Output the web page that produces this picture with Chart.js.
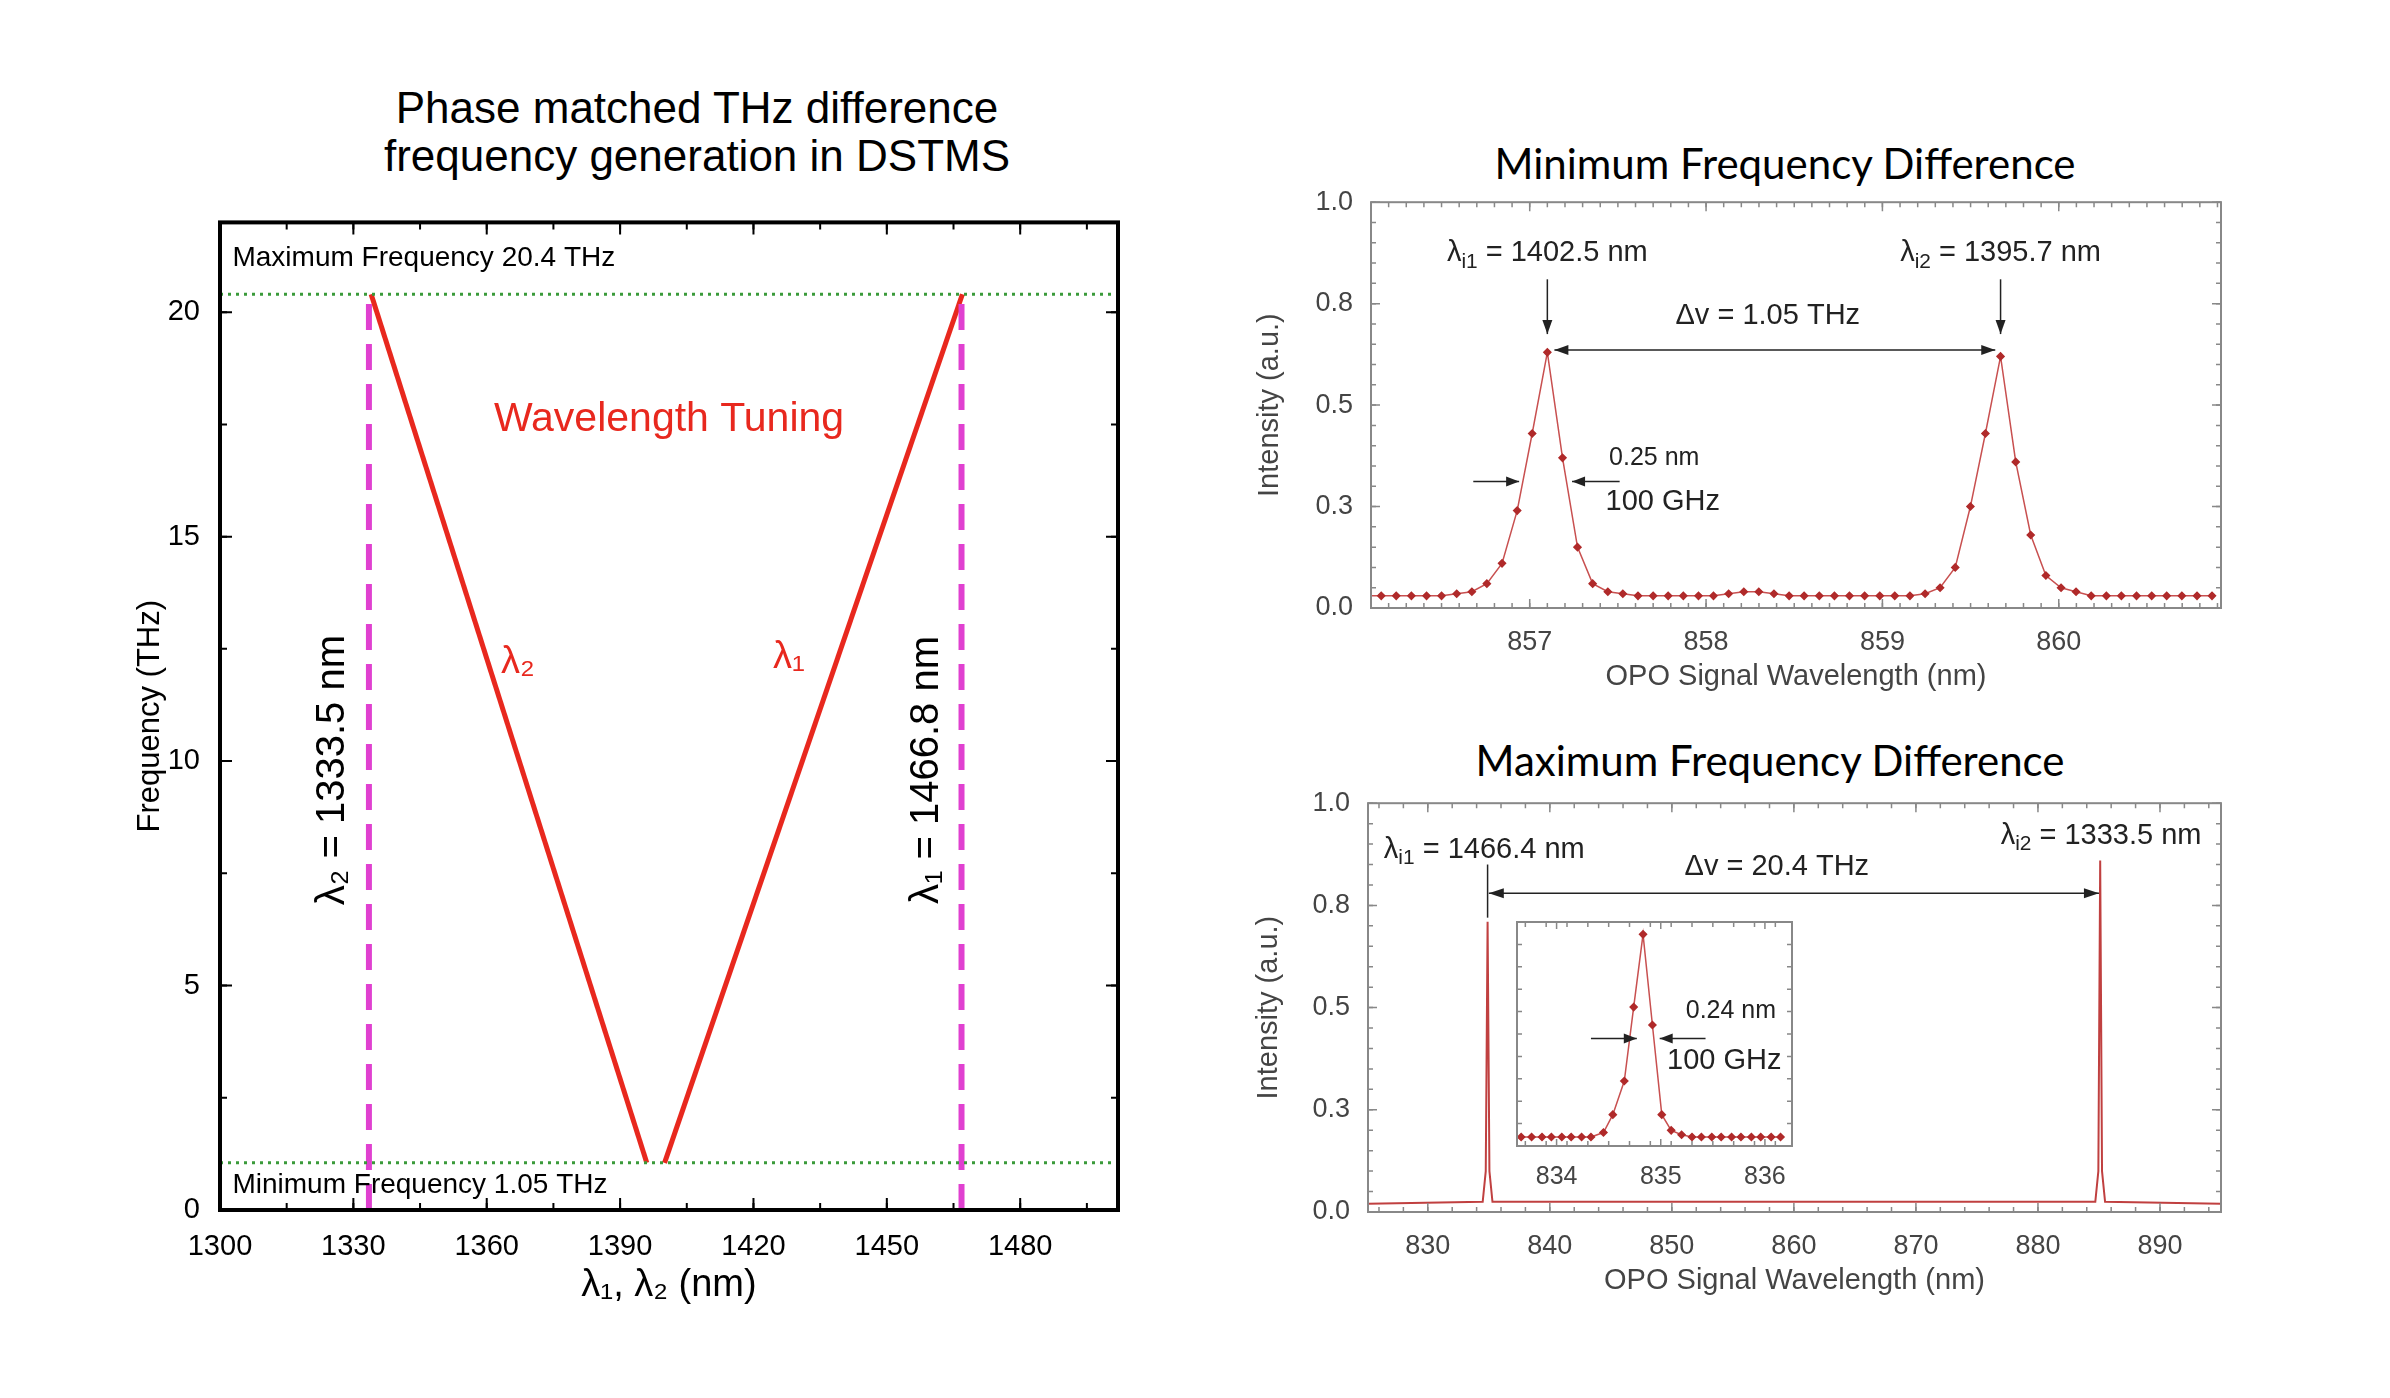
<!DOCTYPE html>
<html><head><meta charset="utf-8">
<script src="https://cdn.jsdelivr.net/npm/chart.js@4.4.1/dist/chart.umd.min.js"></script>
<style>
  body { margin:0; background:#fff; width:2390px; height:1398px; position:relative; overflow:hidden; }
  .box { position:absolute; }
  .ttl { position:absolute; color:#000; text-align:center; white-space:nowrap; }
</style></head>
<body>
<div class="ttl" style="left:297px;top:84px;width:800px;font:44px 'Liberation Sans',Arial,sans-serif;line-height:48px;">Phase matched THz difference<br>frequency generation in DSTMS</div>
<div class="ttl" style="left:1385px;top:138px;width:800px;font:42px Lato,'Open Sans',sans-serif;">Minimum Frequency Difference</div>
<div class="ttl" style="left:1370px;top:735px;width:800px;font:42px Lato,'Open Sans',sans-serif;">Maximum Frequency Difference</div>
<div class="box" id="b1"><canvas id="c1"></canvas></div>
<div class="box" id="b2"><canvas id="c2"></canvas></div>
<div class="box" id="b3"><canvas id="c3"></canvas></div>
<div class="box" id="b4"><canvas id="c4"></canvas></div>
<script>
/* ─── Data ─────────────────────────────────────────────── */
// left: phase matched tuning
const TUNE_X_TICKS = [1300, 1330, 1360, 1390, 1420, 1450, 1480];
const TUNE_Y_TICKS = [0, 5, 10, 15, 20];
const LAMBDA2_LINE = [{x:1334, y:20.4}, {x:1396, y:1.05}];
const LAMBDA1_LINE = [{x:1400, y:1.05}, {x:1467, y:20.4}];
const F_MAX = 20.4, F_MIN = 1.05;
const L2_CUT = 1333.5, L1_CUT = 1466.8;

// top right: minimum frequency difference spectrum
const MIN_X = [856.072,856.158,856.243,856.329,856.415,856.500,856.586,856.672,856.757,856.843,856.929,857.014,857.100,857.186,857.271,857.357,857.443,857.528,857.614,857.700,857.785,857.871,857.957,858.042,858.128,858.214,858.299,858.385,858.471,858.556,858.642,858.728,858.813,858.899,858.985,859.070,859.156,859.242,859.327,859.413,859.499,859.584,859.670,859.756,859.841,859.927,860.013,860.098,860.184,860.270,860.355,860.441,860.527,860.612,860.698,860.784,860.869];
const MIN_Y = [0.03,0.03,0.03,0.03,0.03,0.03,0.035,0.04,0.06,0.11,0.24,0.43,0.63,0.37,0.15,0.06,0.04,0.035,0.03,0.03,0.03,0.03,0.03,0.03,0.035,0.04,0.04,0.035,0.03,0.03,0.03,0.03,0.03,0.03,0.03,0.03,0.03,0.035,0.05,0.10,0.25,0.43,0.62,0.36,0.18,0.08,0.05,0.04,0.03,0.03,0.03,0.03,0.03,0.03,0.03,0.03,0.03];
const MIN_X_TICKS = [857, 858, 859, 860];
const INT_Y_TICKS = [0, 0.25, 0.5, 0.75, 1];
const INT_Y_LABELS = ['0.0', '0.3', '0.5', '0.8', '1.0'];

// bottom right: maximum frequency difference spectrum
const MAX_X = [825, 834.5, 834.75, 834.9, 835.05, 835.3, 884.7, 884.95, 885.1, 885.25, 885.5, 895];
const MAX_Y = [0.02, 0.025, 0.1, 0.71, 0.1, 0.025, 0.025, 0.1, 0.86, 0.1, 0.025, 0.02];
const MAX_X_TICKS = [830, 840, 850, 860, 870, 880, 890];

// inset
const INS_X = [833.66,833.76,833.86,833.95,834.05,834.14,834.24,834.33,834.45,834.54,834.65,834.74,834.83,834.92,835.01,835.10,835.20,835.30,835.39,835.49,835.58,835.68,835.77,835.87,835.96,836.06,836.15];
const INS_Y = [0.04,0.04,0.04,0.04,0.04,0.04,0.04,0.04,0.06,0.14,0.29,0.62,0.945,0.54,0.14,0.07,0.05,0.04,0.04,0.04,0.04,0.04,0.04,0.04,0.04,0.04,0.04];
const INS_X_TICKS = [834, 835, 836];

/* ─── Helpers ─────────────────────────────────────────── */
const pts = (xs, ys) => xs.map((x, i) => ({x, y: ys[i]}));
const SANS = "'Liberation Sans', Arial, sans-serif";
const NARROW = "'Liberation Sans Narrow', 'Liberation Sans', Arial, sans-serif";
const DARKRED = '#b02a2a';

function place(id, areaL, areaT, areaW, areaH, yw, xh, padT, padR) {
  const b = document.getElementById(id);
  b.style.left = (areaL - yw) + 'px';
  b.style.top = (areaT - padT) + 'px';
  b.style.width = (areaW + yw + padR) + 'px';
  b.style.height = (areaH + xh + padT) + 'px';
}

function arrowHead(ctx, x, y, dx, dy, len, half) {
  const a = Math.atan2(dy, dx);
  ctx.beginPath();
  ctx.moveTo(x, y);
  ctx.lineTo(x - len*Math.cos(a) + half*Math.sin(a), y - len*Math.sin(a) - half*Math.cos(a));
  ctx.lineTo(x - len*Math.cos(a) - half*Math.sin(a), y - len*Math.sin(a) + half*Math.cos(a));
  ctx.closePath(); ctx.fill();
}
function arrow(ctx, x1, y1, x2, y2, both, len, half) {
  ctx.beginPath(); ctx.moveTo(x1, y1); ctx.lineTo(x2, y2); ctx.stroke();
  arrowHead(ctx, x2, y2, x2-x1, y2-y1, len, half);
  if (both) arrowHead(ctx, x1, y1, x1-x2, y1-y2, len, half);
}
// λ with subscript then rest
function subText(ctx, main, sub, rest, x, y, size, align) {
  ctx.font = size + 'px ' + NARROW;
  const w1 = ctx.measureText(main).width;
  ctx.font = (size*0.72) + 'px ' + NARROW;
  const w2 = ctx.measureText(sub).width;
  ctx.font = size + 'px ' + NARROW;
  const w3 = ctx.measureText(rest).width;
  const tot = w1 + w2 + w3;
  let x0 = align === 'center' ? x - tot/2 : align === 'right' ? x - tot : x;
  ctx.textAlign = 'left'; ctx.textBaseline = 'middle';
  ctx.fillText(main, x0, y);
  ctx.font = (size*0.72) + 'px ' + NARROW;
  ctx.fillText(sub, x0 + w1, y + size*0.3);
  ctx.font = size + 'px ' + NARROW;
  ctx.fillText(rest, x0 + w1 + w2, y);
}

// frame and inward ticks
function frame(chart, o) {
  const {ctx, chartArea: a, scales: {x, y}} = chart;
  ctx.save();
  ctx.strokeStyle = o.color; ctx.lineWidth = o.lw;
  ctx.strokeRect(a.left, a.top, a.right - a.left, a.bottom - a.top);
  ctx.lineWidth = o.tw;
  const tick = (vals, len, horiz) => vals.forEach(v => {
    ctx.beginPath();
    if (horiz) {
      const p = x.getPixelForValue(v);
      ctx.moveTo(p, a.bottom); ctx.lineTo(p, a.bottom - len);
      ctx.moveTo(p, a.top); ctx.lineTo(p, a.top + len);
    } else {
      const p = y.getPixelForValue(v);
      ctx.moveTo(a.left, p); ctx.lineTo(a.left + len, p);
      ctx.moveTo(a.right, p); ctx.lineTo(a.right - len, p);
    }
    ctx.stroke();
  });
  const range = (s, e, st) => { const r = []; for (let v = s; v <= e + 1e-9; v += st) r.push(v); return r; };
  tick(range(o.xs, x.max, o.xminor), o.minLen, true);
  tick(range(o.ys, y.max, o.yminor), o.minLen, false);
  tick(o.xt, o.majLen, true);
  tick(o.yt, o.majLen, false);
  ctx.restore();
}

function axes(xmin, xmax, xt, ymin, ymax, yt, yl, font, color, yw, xh, pad) {
  return {
    x: { type:'linear', min:xmin, max:xmax, grid:{display:false}, border:{display:false},
         afterBuildTicks: s => { s.ticks = xt.map(v => ({value:v})); },
         afterFit: s => { s.height = xh; },
         ticks:{ color, font, padding:pad, maxRotation:0, autoSkip:false, callback: v => String(v) } },
    y: { type:'linear', min:ymin, max:ymax, grid:{display:false}, border:{display:false},
         afterBuildTicks: s => { s.ticks = yt.map(v => ({value:v})); },
         afterFit: s => { s.width = yw; },
         ticks:{ color, font, padding:pad, autoSkip:false,
                 callback: (v) => yl ? yl[yt.indexOf(v)] : String(v) } },
  };
}

const BASE = { responsive:true, maintainAspectRatio:false, animation:false,
  plugins:{ legend:{display:false}, tooltip:{enabled:false} } };

/* ─── Left: tuning chart ──────────────────────────────── */
place('b1', 220, 213, 898, 997, 92, 102, 20, 40);
new Chart(document.getElementById('c1'), {
  type:'scatter',
  data:{ datasets:[
    { data:[{x:1300,y:F_MAX},{x:1502,y:F_MAX}], showLine:true, borderColor:'#3a9a3a', borderWidth:3, borderDash:[3,5], pointRadius:0 },
    { data:[{x:1300,y:F_MIN},{x:1502,y:F_MIN}], showLine:true, borderColor:'#3a9a3a', borderWidth:3, borderDash:[3,5], pointRadius:0 },
    { data:[{x:L2_CUT,y:0},{x:L2_CUT,y:F_MAX}], showLine:true, borderColor:'#e040d0', borderWidth:6, borderDash:[26,14], pointRadius:0 },
    { data:[{x:L1_CUT,y:0},{x:L1_CUT,y:F_MAX}], showLine:true, borderColor:'#e040d0', borderWidth:6, borderDash:[26,14], pointRadius:0 },
    { data:LAMBDA2_LINE, showLine:true, borderColor:'#e8281e', borderWidth:5, pointRadius:0 },
    { data:LAMBDA1_LINE, showLine:true, borderColor:'#e8281e', borderWidth:5, pointRadius:0 },
  ]},
  options:{ ...BASE,
    layout:{ padding:{ top:20, right:40, left:0, bottom:0 } },
    scales: (() => {
      const s = axes(1300, 1502, TUNE_X_TICKS, 0, 22, TUNE_Y_TICKS, null, {size:29, family:SANS}, '#000', 92, 102, 12);
      s.x.title = { display:true, text:'λ₁, λ₂ (nm)', color:'#000', font:{size:38, family:SANS}, padding:{top:2} };
      s.y.title = { display:true, text:'Frequency (THz)', color:'#000', font:{size:31, family:SANS}, padding:{bottom:0} };
      return s;
    })(),
  },
  plugins:[{ id:'deco1', afterDatasetsDraw(chart) {
    frame(chart, { color:'#000', lw:4, tw:2, xt:TUNE_X_TICKS, yt:TUNE_Y_TICKS, xs:1300, ys:0, xminor:15, yminor:2.5, majLen:12, minLen:7 });
    const {ctx, scales:{x, y}} = chart;
    const X = v => x.getPixelForValue(v), Y = v => y.getPixelForValue(v);
    ctx.save();
    ctx.fillStyle = '#000'; ctx.textBaseline = 'middle'; ctx.textAlign = 'left';
    ctx.font = '28px ' + SANS;
    ctx.fillText('Maximum Frequency 20.4 THz', X(1302.8), Y(21.2));
    ctx.fillText('Minimum Frequency 1.05 THz', X(1302.8), Y(0.55));
    ctx.fillStyle = '#e8281e';
    ctx.font = '41px ' + SANS; ctx.textAlign = 'center';
    ctx.fillText('Wavelength Tuning', X(1401), Y(17.6));
    ctx.font = '38px ' + SANS;
    ctx.fillText('λ₂', X(1367), Y(12.2));
    ctx.fillText('λ₁', X(1428), Y(12.3));
    ctx.fillStyle = '#000'; ctx.font = '40px ' + SANS;
    [[1325.5, 'λ₂ = 1333.5 nm'], [1459, 'λ₁ = 1466.8 nm']].forEach(([v, t]) => {
      ctx.save();
      ctx.translate(X(v), Y(9.8));
      ctx.rotate(-Math.PI/2);
      ctx.fillText(t, 0, 0);
      ctx.restore();
    });
    ctx.restore();
  }}],
});

/* ─── Top right: minimum difference ───────────────────── */
const GREY = '#444';
const TFONT = {size:27, family:NARROW};
place('b2', 1371, 196, 850, 412, 122, 90, 20, 40);
new Chart(document.getElementById('c2'), {
  type:'scatter',
  data:{ datasets:[{ data:pts(MIN_X, MIN_Y), showLine:true, borderColor:'#c85050', borderWidth:1.5,
    pointRadius:3.5, pointStyle:'rectRot', pointBackgroundColor:DARKRED, pointBorderColor:DARKRED }]},
  options:{ ...BASE,
    layout:{ padding:{ top:20, right:40 } },
    scales:(() => {
      const s = axes(856.1, 860.92, MIN_X_TICKS, 0, 1, INT_Y_TICKS, INT_Y_LABELS, TFONT, GREY, 122, 90, 10);
      s.x.title = { display:true, text:'OPO Signal Wavelength (nm)', color:GREY, font:{size:29, family:NARROW}, padding:{top:4} };
      s.y.title = { display:true, text:'Intensity (a.u.)', color:GREY, font:{size:29, family:NARROW}, padding:{bottom:2} };
      return s;
    })(),
  },
  plugins:[{ id:'deco2', afterDatasetsDraw(chart) {
    frame(chart, { color:'#888', lw:2, tw:1.5, xt:MIN_X_TICKS, yt:INT_Y_TICKS, xs:856.2, ys:0, xminor:0.1, yminor:0.05, majLen:9, minLen:5 });
    const {ctx, scales:{x, y}} = chart;
    const X = v => x.getPixelForValue(v), Y = v => y.getPixelForValue(v);
    ctx.save();
    ctx.fillStyle = '#222'; ctx.strokeStyle = '#222'; ctx.lineWidth = 1.5;
    subText(ctx, 'λ', 'i1', ' = 1402.5 nm', X(857.1), Y(0.874), 29, 'center');
    subText(ctx, 'λ', 'i2', ' = 1395.7 nm', X(859.67), Y(0.874), 29, 'center');
    arrow(ctx, X(857.1), Y(0.81), X(857.1), Y(0.675), false, 14, 5);
    arrow(ctx, X(859.67), Y(0.81), X(859.67), Y(0.675), false, 14, 5);
    arrow(ctx, X(857.14), Y(0.636), X(859.64), Y(0.636), true, 14, 5);
    ctx.font = '29px ' + NARROW; ctx.textAlign = 'center'; ctx.textBaseline = 'middle';
    ctx.fillText('Δv = 1.05 THz', X(858.35), Y(0.72));
    arrow(ctx, X(856.68), Y(0.312), X(856.94), Y(0.312), false, 13, 5);
    arrow(ctx, X(857.51), Y(0.312), X(857.24), Y(0.312), false, 13, 5);
    ctx.textAlign = 'left'; ctx.font = '25px ' + NARROW;
    ctx.fillText('0.25 nm', X(857.45), Y(0.37));
    ctx.font = '29px ' + NARROW;
    ctx.fillText('100 GHz', X(857.43), Y(0.26));
    ctx.restore();
  }}],
});

/* ─── Bottom right: maximum difference ────────────────── */
place('b3', 1368, 797, 853, 415, 120, 90, 20, 40);
new Chart(document.getElementById('c3'), {
  type:'scatter',
  data:{ datasets:[{ data:pts(MAX_X, MAX_Y), showLine:true, borderColor:'#c04040', borderWidth:2, pointRadius:0 }]},
  options:{ ...BASE,
    layout:{ padding:{ top:20, right:40 } },
    scales:(() => {
      const s = axes(825.1, 895, MAX_X_TICKS, 0, 1, INT_Y_TICKS, INT_Y_LABELS, TFONT, GREY, 120, 90, 10);
      s.x.title = { display:true, text:'OPO Signal Wavelength (nm)', color:GREY, font:{size:29, family:NARROW}, padding:{top:4} };
      s.y.title = { display:true, text:'Intensity (a.u.)', color:GREY, font:{size:29, family:NARROW}, padding:{bottom:2} };
      return s;
    })(),
  },
  plugins:[{ id:'deco3', afterDatasetsDraw(chart) {
    frame(chart, { color:'#888', lw:2, tw:1.5, xt:MAX_X_TICKS, yt:INT_Y_TICKS, xs:826, ys:0, xminor:2, yminor:0.05, majLen:9, minLen:5 });
    const {ctx, scales:{x, y}} = chart;
    const X = v => x.getPixelForValue(v), Y = v => y.getPixelForValue(v);
    ctx.save();
    ctx.fillStyle = '#222'; ctx.strokeStyle = '#222'; ctx.lineWidth = 1.5;
    subText(ctx, 'λ', 'i1', ' = 1466.4 nm', X(826.4), Y(0.886), 29, 'left');
    subText(ctx, 'λ', 'i2', ' = 1333.5 nm', X(893.4), Y(0.92), 29, 'right');
    ctx.beginPath(); ctx.moveTo(X(834.9), Y(0.72)); ctx.lineTo(X(834.9), Y(0.85)); ctx.stroke();
    arrow(ctx, X(835), Y(0.78), X(885.0), Y(0.78), true, 15, 5);
    ctx.font = '29px ' + NARROW; ctx.textAlign = 'center'; ctx.textBaseline = 'middle';
    ctx.fillText('Δv = 20.4 THz', X(858.6), Y(0.845));
    ctx.restore();
  }}],
});

/* ─── Inset ───────────────────────────────────────────── */
place('b4', 1517, 922, 275, 224, 6, 60, 6, 20);
new Chart(document.getElementById('c4'), {
  type:'scatter',
  data:{ datasets:[{ data:pts(INS_X, INS_Y), showLine:true, borderColor:'#c85050', borderWidth:1.5,
    pointRadius:3.5, pointStyle:'rectRot', pointBackgroundColor:DARKRED, pointBorderColor:DARKRED }]},
  options:{ ...BASE,
    layout:{ padding:{ top:6, right:20 } },
    scales:(() => {
      const s = axes(833.62, 836.26, INS_X_TICKS, 0, 1, [], null, {size:25, family:NARROW}, GREY, 6, 60, 8);
      s.y.ticks.display = false;
      return s;
    })(),
  },
  plugins:[{ id:'deco4', afterDatasetsDraw(chart) {
    frame(chart, { color:'#888', lw:2, tw:1.5, xt:INS_X_TICKS, yt:[], xs:833.7, ys:0.1, xminor:0.2, yminor:0.1, majLen:7, minLen:5 });
    const {ctx, scales:{x, y}} = chart;
    const X = v => x.getPixelForValue(v), Y = v => y.getPixelForValue(v);
    ctx.save();
    ctx.fillStyle = '#222'; ctx.strokeStyle = '#222'; ctx.lineWidth = 1.5;
    arrow(ctx, X(834.33), Y(0.48), X(834.77), Y(0.48), false, 13, 5);
    arrow(ctx, X(835.43), Y(0.48), X(834.99), Y(0.48), false, 13, 5);
    ctx.textAlign = 'left'; ctx.textBaseline = 'middle';
    ctx.font = '25px ' + NARROW;
    ctx.fillText('0.24 nm', X(835.24), Y(0.60));
    ctx.font = '29px ' + NARROW;
    ctx.fillText('100 GHz', X(835.06), Y(0.38));
    ctx.restore();
  }}],
});
</script>
</body></html>
